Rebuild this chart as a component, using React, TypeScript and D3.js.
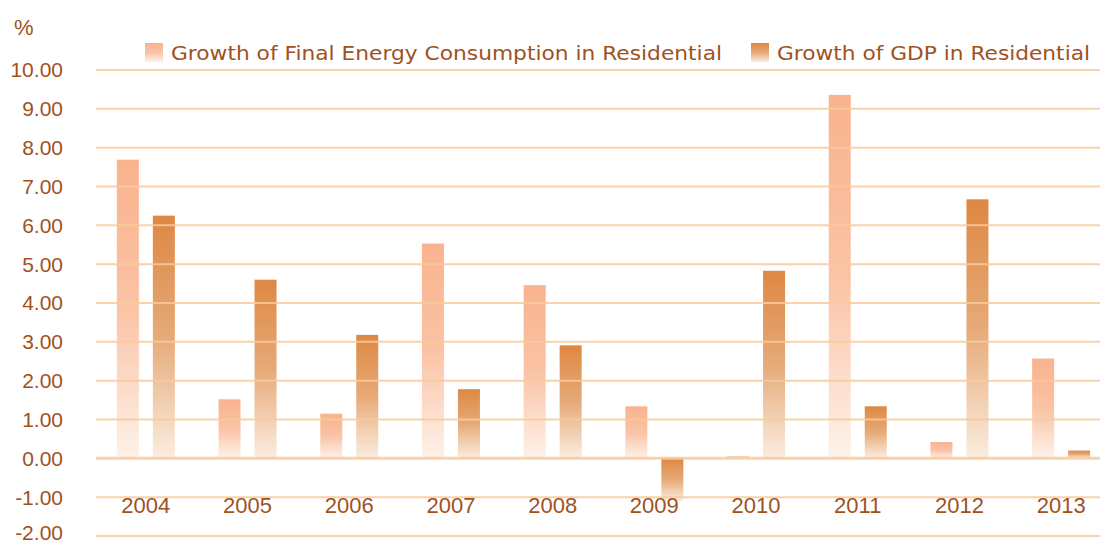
import React from "react";
import * as d3 from "d3";

const years = ["2004", "2005", "2006", "2007", "2008", "2009", "2010", "2011", "2012", "2013"];
const energyGrowth = [7.69, 1.52, 1.15, 5.53, 4.46, 1.34, 0.05, 9.36, 0.42, 2.57];
const gdpGrowth = [6.25, 4.6, 3.18, 1.78, 2.91, -1.1, 4.83, 1.34, 6.67, 0.2];
const yTicks = [10, 9, 8, 7, 6, 5, 4, 3, 2, 1, 0, -1, -2];
const seriesNames = ["Growth of Final Energy Consumption in Residential", "Growth of GDP in Residential"];

const W = 1102;
const H = 544;
const textColor = "#A0521E";
const gridColor = "#FBCA9C";

const App = () => {
  const x = d3.scaleBand().domain(years).range([95, 1112]);
  const y = d3.scaleLinear().domain([-2, 10]).range([536, 70]);
  const barW = 22;
  const off = 18;

  const bar = (v: number, cx: number, fill: string, key: string) => {
    const y0 = y(Math.max(0, v));
    const h = Math.abs(y(v) - y(0));
    return <rect key={key} x={cx - barW / 2} y={y0} width={barW} height={h} fill={fill} />;
  };

  return (
    <svg width={W} height={H} style={{ position: "absolute", left: 0, top: 0 }}>
      <defs>
        <linearGradient id="gEnergy" x1="0" y1="0" x2="0" y2="1">
          <stop offset="0" stopColor="#F9B38E" />
          <stop offset="0.5" stopColor="#FAC3A5" />
          <stop offset="1" stopColor="#FEF2EA" />
        </linearGradient>
        <linearGradient id="gGdp" x1="0" y1="0" x2="0" y2="1">
          <stop offset="0" stopColor="#DE8843" />
          <stop offset="0.5" stopColor="#E6AA78" />
          <stop offset="1" stopColor="#FBEDE0" />
        </linearGradient>
      </defs>
      <rect width={W} height={H} fill="#fff" />

      {years.map((yr, i) => {
        const c = (x(yr) as number) + x.bandwidth() / 2;
        return (
          <g key={yr}>
            {bar(energyGrowth[i], c - off, "url(#gEnergy)", "e" + yr)}
            {bar(gdpGrowth[i], c + off, "url(#gGdp)", "g" + yr)}
          </g>
        );
      })}

      {yTicks.map((t) => (
        <g key={t}>
          <line x1={96} x2={1100} y1={y(t)} y2={y(t)} stroke={gridColor} strokeWidth={t === 0 ? 3 : 2} opacity={0.85} />
          <text x={63} y={t === -2 ? y(t) - 3 : y(t)} dy="0.35em" textAnchor="end" fontFamily="Liberation Sans, Arial, sans-serif" fontSize={21} fill={textColor}>
            {t.toFixed(2)}
          </text>
        </g>
      ))}

      {years.map((yr) => (
        <text key={"l" + yr} x={(x(yr) as number) + x.bandwidth() / 2} y={513} textAnchor="middle" fontFamily="Liberation Sans, Arial, sans-serif" fontSize={22} fill={textColor}>
          {yr}
        </text>
      ))}

      <text x={14} y={35} fontFamily="Liberation Sans, Arial, sans-serif" fontSize={22} fill={textColor}>%</text>

      <rect x={145} y={43} width={18} height={19} fill="url(#gEnergy)" />
      <text x={171} y={60} fontFamily="DejaVu Sans, sans-serif" fontSize={19} fill={textColor} textLength={551} lengthAdjust="spacingAndGlyphs">
        {seriesNames[0]}
      </text>
      <rect x={751} y={43} width={18} height={19} fill="url(#gGdp)" />
      <text x={777} y={60} fontFamily="DejaVu Sans, sans-serif" fontSize={19} fill={textColor} textLength={313} lengthAdjust="spacingAndGlyphs">
        {seriesNames[1]}
      </text>
    </svg>
  );
};

export default App;
